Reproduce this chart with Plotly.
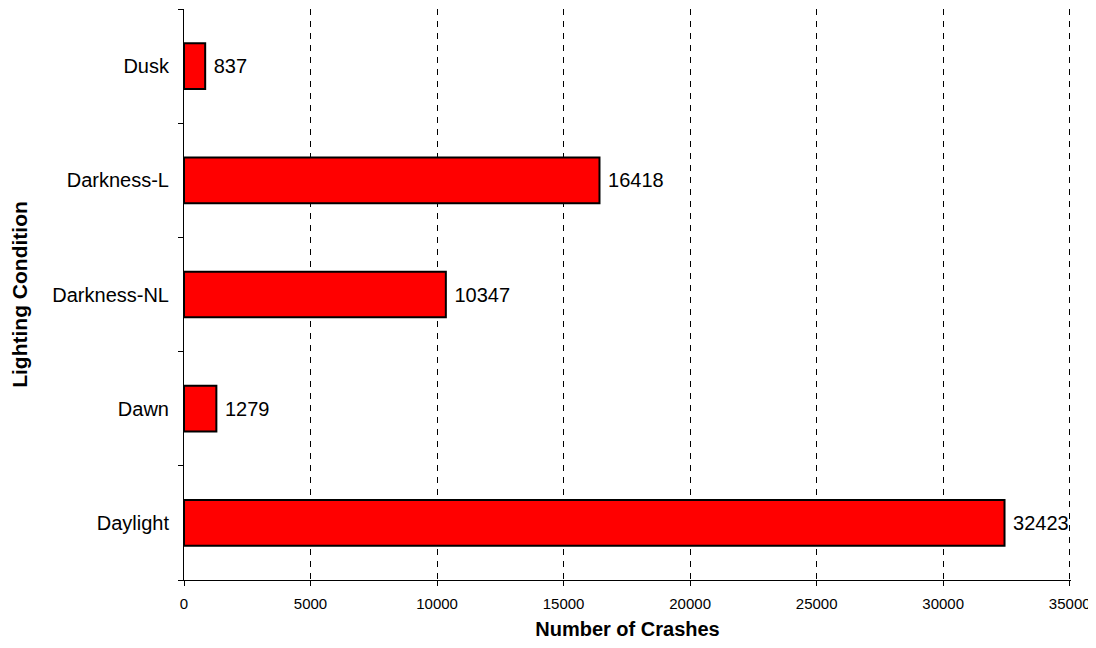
import plotly.graph_objects as go

categories = ["Daylight", "Dawn", "Darkness-NL", "Darkness-L", "Dusk"]
crashes = [32423, 1279, 10347, 16418, 837]
x_ticks = [0, 5000, 10000, 15000, 20000, 25000, 30000, 35000]

FONT = "Liberation Sans, Arial, sans-serif"

fig = go.Figure()
fig.add_trace(go.Bar(
    y=categories, x=crashes, orientation="h",
    width=0.4,
    marker=dict(color="#ff0000", line=dict(color="black", width=2)),
    text=["\u00a0" + str(v) for v in crashes], textposition="outside",
    textfont=dict(family=FONT, size=20, color="black"),
    cliponaxis=False, constraintext="none",
))

fig.update_layout(
    width=1088, height=632,
    margin=dict(l=176, r=25, t=1, b=60, autoexpand=False),
    plot_bgcolor="white", paper_bgcolor="white",
    font=dict(family=FONT, color="black"),
    showlegend=False,
)
fig.update_xaxes(
    range=[0, 35050], tickvals=x_ticks, ticktext=[str(t) for t in x_ticks],
    tickfont=dict(size=15), ticks="outside", ticklen=5, tickcolor="black",
    ticklabelstandoff=5, ticklabeloverflow="allow",
    showline=True, linecolor="black", linewidth=1,
    showgrid=True, gridcolor="black", gridwidth=1, griddash="6px,6px",
    zeroline=False, automargin=False,
    title=dict(text="<b>Number of Crashes</b>", font=dict(size=20), standoff=17),
)
fig.update_yaxes(
    type="category", range=[-0.5, 4.5], tickson="boundaries",
    ticks="outside", ticklen=5, tickcolor="black",
    tickfont=dict(size=20), ticklabelstandoff=10,
    showline=True, linecolor="black", linewidth=1,
    showgrid=False, automargin=False,
    title=dict(text="<b>Lighting Condition</b>", font=dict(size=21), standoff=18),
)

fig.write_html("out.html")
